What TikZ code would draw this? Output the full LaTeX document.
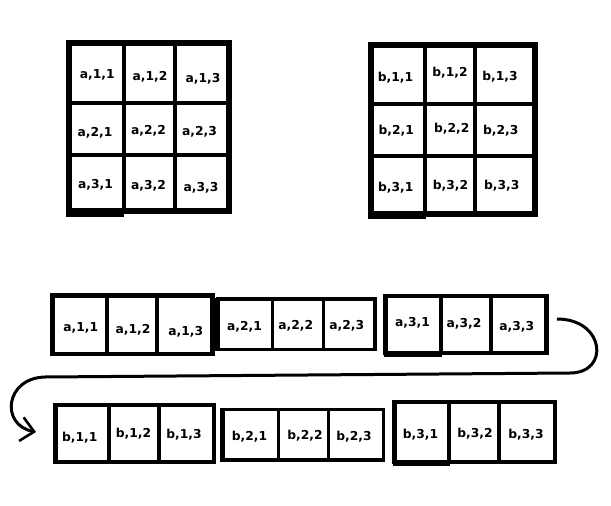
\documentclass[tikz,border=0pt]{standalone}
\usepackage{fontspec}
\newfontfamily\lblfont{DejaVu Sans}
\usetikzlibrary{arrows.meta}
\begin{document}
\begin{tikzpicture}[x=1pt,y=-1pt,
  lbl/.style={font=\lblfont\bfseries\fontsize{12.3}{15}\selectfont, anchor=base, inner sep=0pt},
  heavy/.style={line width=6pt},
  medium/.style={line width=4.8pt},
  light/.style={line width=3.4pt},
  divider/.style={line width=4pt},
  thindiv/.style={line width=3.4pt},
  flow/.style={line width=3pt, -{Straight Barb[length=13pt,width=24pt,line width=2.6pt]}}
]
\useasboundingbox[fill=white] (0,0) rectangle (611,506);

% ---------- grid A ----------
\draw[divider] (123.5,43) -- (123.5,211) (174.5,43) -- (174.5,211)
               (69,102.5) -- (229,102.5) (69,155) -- (229,155);
\draw[heavy] (69,43) rectangle (229,211);
\draw[medium] (66,214.5) -- (124,214.5);

% ---------- grid B ----------
\draw[divider] (425,44.5) -- (425,213.5) (475,44.5) -- (475,213.5)
               (370.5,104) -- (534.5,104) (370.5,156) -- (534.5,156);
\draw[heavy] (370.5,44.5) rectangle (534.5,213.5);
\draw[medium] (368,216.5) -- (426,216.5);

% ---------- flat row a ----------
\draw[divider] (107,295.5) -- (107,354) (157,295.5) -- (157,354);
\draw[medium] (52.5,295.5) rectangle (212.5,354);
\draw[thindiv] (272.5,299) -- (272.5,349.5) (323.5,299) -- (323.5,349.5);
\draw[light] (217.5,299) rectangle (375,349.5);
\draw[line width=5pt] (217.5,297.5) -- (217.5,351);
\draw[divider] (441,296) -- (441,353) (491,296) -- (491,353);
\draw[medium] (385.5,296) rectangle (546.5,353);
\draw[medium] (383.5,355) -- (442,355);

% ---------- flat row b ----------
\draw[divider] (109,405) -- (109,462) (159,405) -- (159,462);
\draw[medium] (55.5,405) rectangle (214,462);
\draw[thindiv] (278.5,409.5) -- (278.5,460) (328.5,409.5) -- (328.5,460);
\draw[light] (222.5,409.5) rectangle (383.5,460);
\draw[line width=5pt] (222.5,408) -- (222.5,461.5);
\draw[divider] (448.5,402) -- (448.5,462) (499,402) -- (499,462);
\draw[medium] (394.5,402) rectangle (555,462);
\draw[medium] (392.5,464) -- (450,464);

% ---------- labels grid A ----------
\node[lbl] (ga11) at (97.3,78.3) {a,1,1};
\node[lbl] (ga12) at (150,80) {a,1,2};
\node[lbl] (ga13) at (203,82.3) {a,1,3};
\node[lbl] (ga21) at (95,136.7) {a,2,1};
\node[lbl] (ga22) at (148.5,134.3) {a,2,2};
\node[lbl] (ga23) at (199.5,135) {a,2,3};
\node[lbl] (ga31) at (95.5,188.3) {a,3,1};
\node[lbl] (ga32) at (148.5,189) {a,3,2};
\node[lbl] (ga33) at (201,191.7) {a,3,3};

% ---------- labels grid B ----------
\node[lbl] (gb11) at (395.5,81) {b,1,1};
\node[lbl] (gb12) at (450,76.7) {b,1,2};
\node[lbl] (gb13) at (500,80) {b,1,3};
\node[lbl] (gb21) at (396.3,134.3) {b,2,1};
\node[lbl] (gb22) at (451.7,132.3) {b,2,2};
\node[lbl] (gb23) at (500.8,134.3) {b,2,3};
\node[lbl] (gb31) at (395.8,191) {b,3,1};
\node[lbl] (gb32) at (450.5,189) {b,3,2};
\node[lbl] (gb33) at (501.7,189) {b,3,3};

% ---------- labels row a ----------
\node[lbl] (ra11) at (80.7,331.7) {a,1,1};
\node[lbl] (ra12) at (133,333.3) {a,1,2};
\node[lbl] (ra13) at (185.8,335) {a,1,3};
\node[lbl] (ra21) at (244.5,330) {a,2,1};
\node[lbl] (ra22) at (295.8,329) {a,2,2};
\node[lbl] (ra23) at (346.8,329) {a,2,3};
\node[lbl] (ra31) at (412.5,326.7) {a,3,1};
\node[lbl] (ra32) at (464,327.7) {a,3,2};
\node[lbl] (ra33) at (516.8,330) {a,3,3};

% ---------- labels row b ----------
\node[lbl] (rb11) at (79.7,441) {b,1,1};
\node[lbl] (rb12) at (133.5,437.3) {b,1,2};
\node[lbl] (rb13) at (184,438.3) {b,1,3};
\node[lbl] (rb21) at (249.5,440) {b,2,1};
\node[lbl] (rb22) at (305,439) {b,2,2};
\node[lbl] (rb23) at (354,440) {b,2,3};
\node[lbl] (rb31) at (420.5,438.3) {b,3,1};
\node[lbl] (rb32) at (475,437.7) {b,3,2};
\node[lbl] (rb33) at (526,438.3) {b,3,3};

% ---------- connector ----------
\coordinate (start) at (557,319);
\coordinate (turnR) at (570,373);
\coordinate (turnL) at (45,377);
\coordinate (finish) at (36,432);
\draw[flow] (start) .. controls (605,319) and (610,373) .. (turnR)
   -- (turnL) .. controls (5,378) and (0,425) .. (finish);
\end{tikzpicture}
\end{document}
